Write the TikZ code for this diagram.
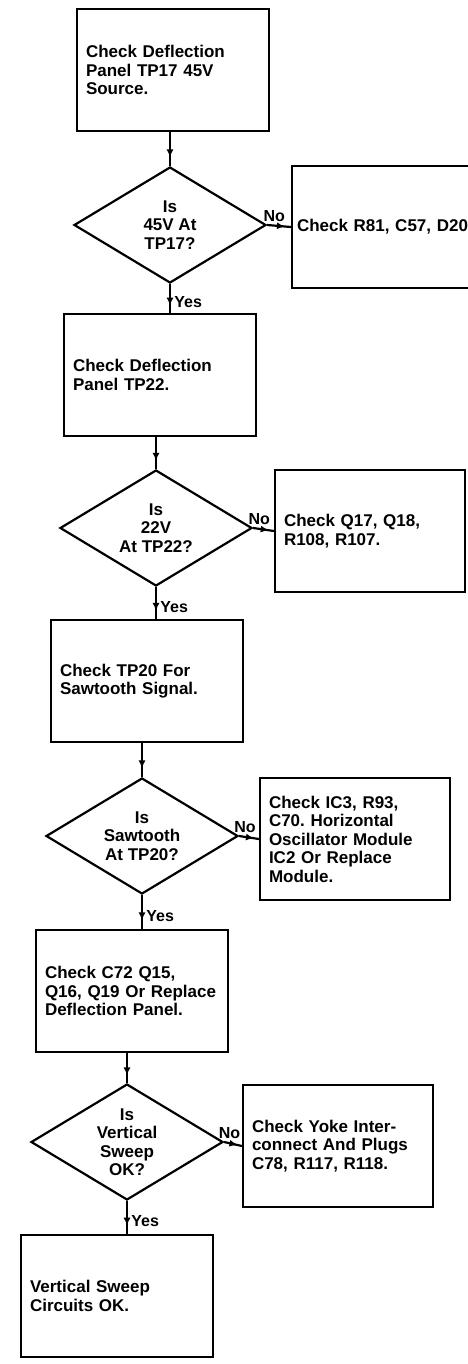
\documentclass[tikz,border=0pt]{standalone}
\usepackage{fontspec}
\setmainfont{Liberation Sans}
\usetikzlibrary{shapes.geometric,decorations.markings,arrows.meta}
\frenchspacing

\begin{document}
\begin{tikzpicture}[x=1pt,y=-1pt,>={Latex[length=8pt,width=7pt]},line width=2.2pt,
  font=\fontsize{17}{18.5}\selectfont\bfseries,
  box/.style={draw,rectangle,minimum width=192pt,minimum height=122pt,text width=174pt,inner sep=9pt,align=left},
  fix/.style={box,minimum width=190pt,text width=172pt},
  ques/.style={draw,diamond,shape aspect=1.65,inner sep=0pt,minimum width=192pt,minimum height=116pt,align=center},
  flow/.style={decoration={markings,mark=at position 0.75 with {\arrow{>}}},postaction={decorate}},
  lbl/.style={font=\fontsize{16}{18}\selectfont\bfseries}]
\useasboundingbox (0,0) rectangle (467,1364);
% main column
\node[box] (b1) at (173,70) {Check Deflection\\Panel TP17 45V\\Source.};
\node[ques] (q1) at (170,225) {Is\\45V At\\TP17?};
\node[box] (b2) at (160,375) {Check Deflection\\Panel TP22.};
\node[ques] (q2) at (156,528) {Is\\22V\\At TP22?};
\node[box] (b3) at (147,681) {Check TP20 For\\Sawtooth Signal.};
\node[ques] (q3) at (142,836) {Is\\Sawtooth\\At TP20?};
\node[box] (b4) at (132,991) {Check C72 Q15,\\Q16, Q19 Or Replace\\Deflection Panel.};
\node[ques] (q4) at (127,1142) {Is\\Vertical\\Sweep\\OK?};
\node[box] (b5) at (117,1296) {Vertical Sweep\\Circuits OK.};
% "No" branch
\node[fix,inner xsep=5pt,text width=180pt] (n1) at (387,227) {Check R81, C57, D20};
\node[fix] (n2) at (370,531) {Check Q17, Q18,\\R108, R107.};
\node[fix] (n3) at (355,839) {Check IC3, R93,\\C70. Horizontal\\Oscillator Module\\IC2 Or Replace\\Module.};
\node[fix] (n4) at (338,1146) {Check Yoke Inter-\\connect And Plugs\\C78, R117, R118.};
% connectors
\foreach \i in {1,...,4} \draw[flow] (q\i.north |- b\i.south) -- (q\i.north);
\foreach \i/\j in {1/2,2/3,3/4,4/5}
  \draw[flow] (q\i.south) -- node[lbl,right,pos=0.62] {Yes} (q\i.south |- b\j.north);
\foreach \i in {1,...,4}
  \draw[flow] (q\i.east) -- node[lbl,above,pos=0.3] {No} (n\i.west);
\end{tikzpicture}
\end{document}
